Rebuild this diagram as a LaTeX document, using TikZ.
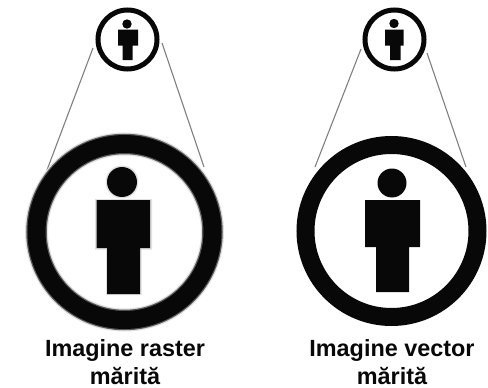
\documentclass[tikz,border=0pt]{standalone}
\usepackage{fontspec}
\setmainfont{Liberation Sans}
\definecolor{halo}{gray}{0.88}
\definecolor{halob}{gray}{0.35}
\definecolor{linkgray}{gray}{0.5}
\definecolor{ink}{gray}{0.03}
\tikzset{
  ring/.style={circle,draw=ink,fill=none,inner sep=0pt,outer sep=0pt,minimum size=#1},
  zoomline/.style={draw=linkgray,line width=1.1pt},
  caption/.style={font=\bfseries\fontsize{23.4}{28}\selectfont,text=ink,align=center,inner sep=0pt}
}
\begin{document}
\begin{tikzpicture}[x=1pt,y=-1pt]
\useasboundingbox (0,0) rectangle (488,388);
\fill[white] (0,0) rectangle (488,388);
% zoom lines
\coordinate (la) at (93,48);   \coordinate (lb) at (47,170);
\coordinate (lc) at (162,43);  \coordinate (ld) at (204,167);
\coordinate (ra) at (361,49);  \coordinate (rb) at (315,167);
\coordinate (rc) at (427,53);  \coordinate (rd) at (466,167);
\draw[zoomline] (la) -- (lb);
\draw[zoomline] (lc) -- (ld);
\draw[zoomline] (ra) -- (rb);
\draw[zoomline] (rc) -- (rd);
% small icons
\node[ring=59pt,line width=5pt] (smallL) at (127.5,39.5) {};
\fill[ink] (127,24) circle (4.7);
\fill[ink] (118,29.5) rectangle (138,45.5) (122.5,45) rectangle (132.5,60);
\node[ring=59pt,line width=5pt] (smallR) at (394.5,39.5) {};
\fill[ink] (394,23.5) circle (4.7);
\fill[ink] (385,29.5) rectangle (403.5,45.5) (390,45) rectangle (400.5,60);
% enlarged raster: soft edge
\node[ring=176pt,line width=23pt,draw=halo] (bigLh) at (124.5,232) {};
\node[ring=176pt,line width=20.5pt,draw=halob] (bigLm) at (124.5,232) {};
\node[ring=176pt,line width=18pt] (bigL) at (124.5,232) {};
\fill[halo] (122,182) circle (16.5);
\fill[halo] (95,199) rectangle (152,249.5) (106,248) rectangle (141.5,295);
\fill[ink] (122,182) circle (15);
\fill[ink] (96.5,200) rectangle (150,248) (107,246) rectangle (140,294);
% enlarged vector
\node[ring=172pt,line width=18pt] (bigR) at (391.5,231) {};
\fill[ink] (392,183) circle (14.5);
\fill[ink] (365,200) rectangle (420,247) (376,246) rectangle (409,292);
% captions
\node[caption] (capL) at (125,362) {Imagine raster\\mărită};
\node[caption] (capR) at (392,362) {Imagine vector\\mărită};
\end{tikzpicture}
\end{document}
